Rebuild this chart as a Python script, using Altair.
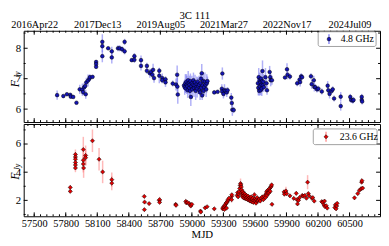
import altair as alt
import pandas as pd

SERIF = "Liberation Serif"
W, H1, H2 = 363, 93, 94
XDOM = [57400, 60790]

# ---------------- data: 4.8 GHz ----------------
mjd_48 = [57718, 57777, 57811, 57843, 57848, 57871, 57902, 57933, 57958, 57965,
          57975, 57985, 57990, 57996, 58012, 58025, 58030, 58055, 58089, 58089,
          58089, 58148, 58148, 58148, 58204, 58238, 58238, 58297, 58313, 58335,
          58360, 58360, 58428, 58453, 58453, 58516, 58516, 58572, 58572, 58600,
          58610, 58623, 58631, 58640, 58690, 58690, 58718, 58718, 58749, 58749,
          58818, 58849, 58860, 58862, 58866,
          58925, 58932, 58938, 58942, 58948, 58952, 58957, 58960, 58965, 58970,
          58975, 58978, 58982, 58986, 58990, 58995, 59000, 59004, 59010, 59015,
          59020, 59026, 59030, 59036, 59040, 59046, 59050, 59056, 59060, 59068,
          59074, 59078, 59082, 59087, 59090, 59094, 59098, 59102, 59108, 59112,
          59118, 59124, 59130, 59136, 59142, 59148,
          59213, 59245, 59285, 59288, 59290, 59300, 59310, 59320, 59332, 59340,
          59375, 59380, 59385, 59398,
          59628, 59632, 59636, 59640, 59645, 59648, 59652, 59655, 59658, 59662,
          59665, 59668, 59672, 59676, 59680, 59685, 59700, 59710, 59715, 59740,
          59745, 59750, 59762,
          59886, 59905, 59910, 59933, 60002, 60025, 60030, 60040, 60049,
          60133, 60140, 60160, 60165, 60175, 60190, 60204, 60236,
          60292, 60298, 60310, 60330, 60340, 60353, 60416, 60416,
          60507, 60515, 60530, 60538, 60616, 60616, 60620]
flux_48 = [6.46, 6.43, 6.49, 6.47, 6.41, 6.40, 6.21, 6.65, 6.64, 6.56,
           6.72, 6.76, 6.49, 6.88, 6.94, 7.00, 7.05, 7.06, 7.55, 7.48,
           7.39, 8.21, 8.07, 7.74, 8.00, 7.90, 7.70, 8.00, 8.00, 7.97,
           8.21, 7.90, 7.61, 7.74, 7.62, 7.61, 7.42, 7.42, 7.26, 7.18,
           7.22, 7.13, 7.29, 7.02, 7.26, 7.10, 7.02, 6.95, 6.98, 6.88,
           6.84, 6.81, 7.13, 6.74, 6.48,
           6.78, 6.72, 6.85, 6.68, 6.90, 6.80, 6.75, 6.62, 6.95, 6.85,
           6.70, 6.80, 6.60, 6.92, 6.40, 6.75, 6.85, 6.65, 6.80, 6.95,
           6.70, 6.78, 6.88, 6.60, 6.72, 6.82, 6.68, 6.90, 6.75, 6.80,
           6.62, 6.55, 6.85, 7.00, 6.70, 7.18, 6.45, 6.78, 6.92, 6.60,
           6.72, 6.90, 6.80, 6.65, 6.85, 6.92,
           6.55, 6.57, 6.67, 6.58, 7.17, 6.50, 6.62, 6.60, 6.55, 6.62,
           6.38, 6.20, 5.98, 5.97,
           6.85, 6.70, 7.05, 6.60, 6.95, 6.75, 6.88, 6.62, 7.00, 6.80,
           6.68, 6.92, 7.25, 6.78, 6.90, 6.72, 7.05, 6.85, 6.62, 7.22,
           7.05, 6.95, 6.95,
           7.04, 7.31, 7.13, 7.07, 6.85, 6.97, 6.89, 7.08, 7.05,
           7.08, 6.82, 6.95, 6.73, 6.72, 6.65, 6.67, 6.58,
           6.77, 6.62, 6.50, 6.60, 6.65, 6.35, 6.41, 6.10,
           6.40, 6.30, 6.28, 6.30, 6.40, 6.30, 6.25]
err_48 = [0.15, 0.05, 0.05, 0.05, 0.05, 0.05, 0.05, 0.15, 0.20, 0.10,
          0.15, 0.10, 0.15, 0.15, 0.20, 0.10, 0.10, 0.05, 0.05, 0.05,
          0.05, 0.25, 0.20, 0.20, 0.05, 0.15, 0.20, 0.10, 0.10, 0.10,
          0.10, 0.10, 0.05, 0.10, 0.10, 0.15, 0.15, 0.10, 0.10, 0.15,
          0.10, 0.10, 0.20, 0.15, 0.10, 0.25, 0.15, 0.10, 0.10, 0.15,
          0.10, 0.20, 0.30, 0.30, 0.30,
          0.15, 0.25, 0.30, 0.15, 0.25, 0.30, 0.15, 0.25, 0.30, 0.15,
          0.25, 0.30, 0.15, 0.25, 0.30, 0.15, 0.25, 0.30, 0.15, 0.25,
          0.30, 0.15, 0.25, 0.30, 0.15, 0.25, 0.30, 0.15, 0.25, 0.30,
          0.15, 0.25, 0.30, 0.15, 0.25, 0.30, 0.15, 0.25, 0.30, 0.15,
          0.25, 0.30, 0.15, 0.25, 0.30, 0.15,
          0.05, 0.05, 0.15, 0.10, 0.20, 0.15, 0.20, 0.10, 0.15, 0.10,
          0.15, 0.15, 0.20, 0.10,
          0.20, 0.25, 0.30, 0.15, 0.25, 0.30, 0.20, 0.15, 0.30, 0.20,
          0.25, 0.15, 0.35, 0.20, 0.25, 0.15, 0.30, 0.20, 0.15, 0.20,
          0.15, 0.20, 0.15,
          0.05, 0.20, 0.15, 0.10, 0.10, 0.15, 0.15, 0.10, 0.10,
          0.10, 0.15, 0.15, 0.15, 0.10, 0.10, 0.10, 0.10,
          0.15, 0.10, 0.15, 0.10, 0.10, 0.10, 0.15, 0.15,
          0.10, 0.10, 0.10, 0.10, 0.10, 0.10, 0.10]

# ---------------- data: 23.6 GHz ----------------
mjd_236 = [57843, 57843, 57892, 57892, 57892, 57892, 57892, 57892, 57967, 57967,
           57967, 57970, 57989, 57989, 58054, 58117, 58151, 58238, 58238,
           58547, 58550, 58548, 58593, 58690, 58693, 58693, 58846, 58849,
           58942, 58948, 58960, 58975, 58985, 58990, 59000, 59082, 59085,
           59126, 59145, 59213,
           59293, 59298, 59305, 59310, 59312, 59318, 59325, 59330, 59332, 59340,
           59345, 59352, 59378, 59378, 59380,
           59430, 59435, 59440, 59445, 59450, 59455, 59460, 59463, 59466, 59470,
           59472, 59475, 59478, 59480, 59485, 59488, 59492, 59495, 59500, 59505,
           59510, 59515, 59520, 59525, 59530, 59535, 59540, 59545, 59550, 59555,
           59560, 59565, 59570, 59575, 59580, 59585, 59590, 59595, 59600, 59605,
           59610, 59615, 59620, 59625, 59630, 59640, 59650, 59660, 59670, 59680,
           59690, 59700, 59705, 59710, 59715, 59720, 59725, 59730, 59735, 59740,
           59745, 59750, 59755, 59759, 59762,
           59877, 59880, 59895, 59902, 59933, 59970, 59993, 60000, 60005, 60015,
           60025, 60050, 60060, 60075, 60090, 60101, 60108, 60115, 60142, 60150,
           60164, 60236, 60245, 60256, 60262, 60266, 60278, 60288,
           60360, 60365, 60372, 60378, 60382,
           60547, 60578, 60594, 60610, 60615, 60618, 60625]
flux_236 = [2.92, 2.64, 5.26, 5.08, 4.92, 4.69, 4.51, 4.30, 5.61, 4.85,
            4.58, 4.30, 5.19, 5.03, 6.23, 4.92, 4.02, 3.47, 3.22,
            2.28, 1.88, 1.34, 1.77, 2.00, 2.05, 1.86, 1.72, 1.65,
            1.93, 1.82, 1.85, 1.78, 1.66, 1.60, 1.72, 1.24, 1.17,
            1.47, 1.55, 1.40,
            1.40, 1.50, 1.55, 1.35, 1.62, 1.70, 1.80, 1.45, 1.85, 1.95,
            2.05, 2.15, 2.28, 2.05, 2.40,
            2.35, 2.55, 2.25, 2.45, 2.62, 2.85, 3.05, 3.20, 3.10, 2.95,
            2.75, 2.55, 2.40, 2.30, 2.62, 2.20, 2.50, 2.35, 2.15, 2.45,
            2.30, 2.10, 2.35, 2.20, 2.05, 2.30, 2.15, 2.00, 2.20, 1.95,
            2.10, 2.25, 1.90, 2.05, 2.15, 1.85, 2.00, 2.40, 2.10, 1.95,
            1.80, 2.05, 2.20, 1.95, 2.00, 2.10, 1.95, 2.15, 2.25, 2.05,
            2.30, 2.20, 2.45, 2.60, 2.35, 2.70, 2.50, 2.75, 2.55, 2.85,
            2.65, 2.95, 3.00, 3.10, 1.72,
            2.60, 2.44, 2.67, 2.48, 2.32, 2.14, 2.50, 2.05, 1.75, 2.00,
            2.20, 2.35, 2.30, 2.35, 2.15, 3.29, 2.48, 2.32, 2.15, 2.20,
            1.95, 1.91, 1.86, 1.68, 1.95, 1.56, 1.62, 1.45,
            1.49, 1.68, 1.40, 1.60, 1.79,
            2.18, 2.48, 2.71, 2.83, 3.29, 3.40, 2.87]
err_236 = [0.15, 0.10, 0.35, 0.35, 0.40, 0.40, 0.35, 0.30, 0.90, 0.70,
           0.60, 0.70, 0.70, 0.55, 0.80, 0.80, 0.80, 0.50, 0.50,
           0.10, 0.05, 0.05, 0.05, 0.15, 0.20, 0.10, 0.05, 0.05,
           0.10, 0.05, 0.05, 0.05, 0.05, 0.05, 0.05, 0.05, 0.05,
           0.05, 0.05, 0.05,
           0.05, 0.05, 0.10, 0.05, 0.10, 0.05, 0.10, 0.05, 0.10, 0.10,
           0.10, 0.10, 0.25, 0.20, 0.10,
           0.10, 0.15, 0.10, 0.15, 0.15, 0.20, 0.25, 0.35, 0.20, 0.15,
           0.15, 0.10, 0.15, 0.10, 0.15, 0.10, 0.10, 0.15, 0.10, 0.10,
           0.10, 0.10, 0.10, 0.15, 0.10, 0.10, 0.10, 0.10, 0.10, 0.10,
           0.10, 0.10, 0.10, 0.10, 0.10, 0.10, 0.10, 0.20, 0.10, 0.10,
           0.10, 0.10, 0.10, 0.10, 0.10, 0.10, 0.10, 0.10, 0.10, 0.10,
           0.10, 0.10, 0.10, 0.10, 0.10, 0.10, 0.10, 0.10, 0.10, 0.10,
           0.10, 0.10, 0.10, 0.10, 0.05,
           0.15, 0.15, 0.30, 0.15, 0.10, 0.10, 0.15, 0.15, 0.10, 0.10,
           0.15, 0.10, 0.10, 0.10, 0.10, 0.50, 0.15, 0.10, 0.10, 0.10,
           0.10, 0.10, 0.10, 0.10, 0.10, 0.10, 0.10, 0.10,
           0.10, 0.10, 0.10, 0.10, 0.10,
           0.15, 0.10, 0.10, 0.10, 0.10, 0.10, 0.10]

# ---------------- ticks / labels ----------------
bottom_ticks = [57500, 57800, 58100, 58400, 58700, 59000, 59300, 59600, 59900, 60200, 60500]
minor_x = list(range(57440, 60790, 60))
top_ticks = [57500, 58100, 58700, 59300, 59900, 60500]
top_labels = ["2016Apr22", "2017Dec13", "2019Aug05", "2021Mar27", "2022Nov17", "2024Jul09"]
y1_major = [6, 7, 8]
y1_minor = [6.5, 7.5, 8.5]
y2_major = [2, 4, 6]
y2_minor = [1, 3, 5, 7]

top_expr = "".join(f"datum.value == {v} ? '{s}' : " for v, s in zip(top_ticks, top_labels)) + "''"


def panel(mjd, flux, err, H, ydom, ymaj, ymin, xaxis, is_top, fill, ecol, shape, size,
          leg_text, box, mark_xy, text_x, ytitle_y):
    df = pd.DataFrame({"mjd": mjd, "flux": flux, "err": err})
    df["lo"] = df["flux"] - df["err"]
    df["hi"] = df["flux"] + df["err"]
    X = alt.X("mjd:Q", scale=alt.Scale(domain=XDOM, nice=False, zero=False), axis=xaxis)
    yaxis = alt.Axis(values=ymaj, ticks=False, domain=False, grid=False, title=None,
                     labelFont=SERIF, labelFontSize=11, labelPadding=3, labelColor="black")
    Y = alt.Y("flux:Q", scale=alt.Scale(domain=ydom, nice=False, zero=False), axis=yaxis)
    base = alt.Chart(df)
    errs = base.mark_rule(color=ecol, strokeWidth=1.5, opacity=0.55).encode(
        x=X, y=alt.Y("lo:Q", scale=alt.Scale(domain=ydom, nice=False, zero=False), axis=yaxis),
        y2="hi:Q")
    pts = base.mark_point(filled=True, fill=fill, stroke="black", strokeWidth=0.5,
                          shape=shape, size=size, opacity=1).encode(x=X, y=Y)
    layers = [errs, pts]
    # x ticks (inward)
    for vals, L in ((bottom_ticks, 4), (minor_x, 2)):
        tdf = pd.DataFrame({"mjd": vals})
        layers.append(alt.Chart(tdf).mark_rule(color="black", strokeWidth=1).encode(
            x=X, y=alt.value(H), y2=alt.value(H - L)))
    top_sets = ((top_ticks, 4), (minor_x, 2)) if is_top else ((bottom_ticks, 4), (minor_x, 2))
    for vals, L in top_sets:
        tdf = pd.DataFrame({"mjd": vals})
        layers.append(alt.Chart(tdf).mark_rule(color="black", strokeWidth=1).encode(
            x=X, y=alt.value(0), y2=alt.value(L)))
    # y ticks (inward, both sides)
    for vals, L in ((ymaj, 4), (ymin, 2)):
        tdf = pd.DataFrame({"flux": vals})
        layers.append(alt.Chart(tdf).mark_rule(color="black", strokeWidth=1).encode(
            y=Y, x=alt.value(0), x2=alt.value(L)))
        layers.append(alt.Chart(tdf).mark_rule(color="black", strokeWidth=1).encode(
            y=Y, x=alt.value(W), x2=alt.value(W - L)))
    # legend
    one = pd.DataFrame({"a": [0]})
    x0, x1, y0, y1 = box
    mx, my = mark_xy
    layers.append(alt.Chart(one).mark_rect(fill="white", stroke="#888888", strokeWidth=0.8,
                                           cornerRadius=2).encode(
        x=alt.value(x0), x2=alt.value(x1), y=alt.value(y0), y2=alt.value(y1)))
    layers.append(alt.Chart(one).mark_rule(color=ecol, strokeWidth=1.5, opacity=0.8).encode(
        x=alt.value(mx), y=alt.value(my - 5), y2=alt.value(my + 5)))
    layers.append(alt.Chart(one).mark_point(filled=True, fill=fill, stroke="black", strokeWidth=0.5,
                                            shape=shape, size=size, opacity=1).encode(
        x=alt.value(mx), y=alt.value(my)))
    layers.append(alt.Chart(one).mark_text(align="left", baseline="middle", font=SERIF,
                                           fontSize=10, color="black").encode(
        x=alt.value(text_x), y=alt.value(my), text=alt.value(leg_text)))
    # y title  F_Jy
    layers.append(alt.Chart(one).mark_text(angle=270, align="center", baseline="middle", font=SERIF,
                                           fontStyle="italic", fontSize=12, color="black").encode(
        x=alt.value(-9), y=alt.value(ytitle_y + 6), text=alt.value("F")))
    layers.append(alt.Chart(one).mark_text(angle=270, align="center", baseline="middle", font=SERIF,
                                           fontStyle="italic", fontSize=8, color="black").encode(
        x=alt.value(-6), y=alt.value(ytitle_y - 3), text=alt.value("Jy")))
    return alt.layer(*layers).properties(width=W, height=H)


xaxis_top = alt.Axis(orient="top", values=top_ticks, labelExpr=top_expr, ticks=False, domain=False,
                     grid=False, title=None, labelFont=SERIF, labelFontSize=10.5, labelPadding=1,
                     labelColor="black", labelOverlap=False, labelFlush=False)
xaxis_bot = alt.Axis(orient="bottom", values=bottom_ticks, format="d", ticks=False, domain=False,
                     grid=False, title="MJD", titleFont=SERIF, titleFontSize=11, titleFontWeight="normal",
                     titleColor="black", titlePadding=0, labelFont=SERIF, labelFontSize=10.5,
                     labelPadding=2, labelColor="black", labelOverlap=False, labelFlush=False)

top = panel(mjd_48, flux_48, err_48, H1, [5.575, 8.575], y1_major, y1_minor, xaxis_top, True,
            "#1414b4", "#6f6ff0", "circle", 14, "4.8 GHz", (300, 359, 1, 16), (311, 8.5), 323, 48)
bot = panel(mjd_236, flux_236, err_236, H2, [0.87, 7.42], y2_major, y2_minor, xaxis_bot, False,
            "#e00000", "#ff8080", "diamond", 18, "23.6 GHz", (295, 360, 5, 21), (308, 13), 322, 47)

chart = alt.vconcat(top, bot, spacing=0).properties(
    title=alt.TitleParams("3C 111", font=SERIF, fontSize=11, fontWeight="normal", color="black",
                          anchor="middle", offset=-2),
    padding={"left": 0, "top": 0, "right": 0, "bottom": 0},
).configure_view(stroke="black", strokeWidth=1)

chart.save("out.html", embed_options={"renderer": "svg", "actions": False})
